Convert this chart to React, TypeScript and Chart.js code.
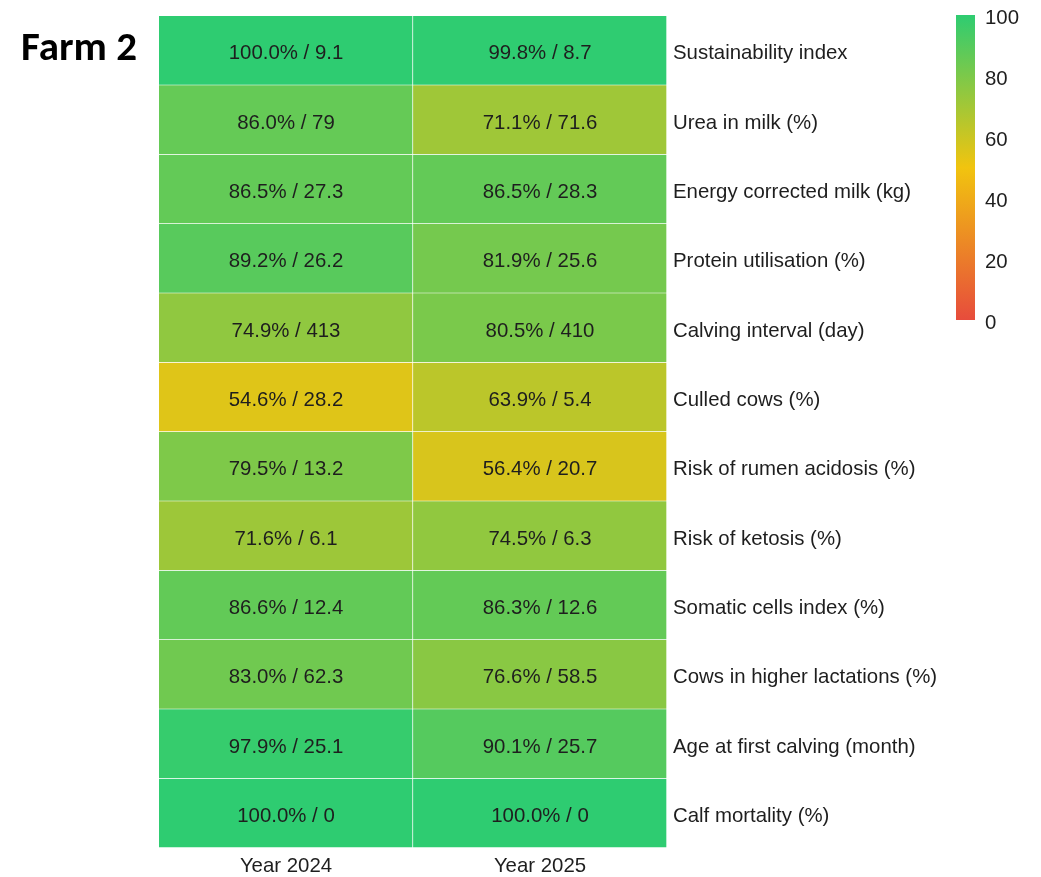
import React, { useEffect, useRef } from "react";
import { Chart, registerables } from "chart.js";

Chart.register(...registerables);

const TITLE = "Farm 2";
const YEARS = ["Year 2024", "Year 2025"];
const ROWS = [
  "Sustainability index",
  "Urea in milk (%)",
  "Energy corrected milk (kg)",
  "Protein utilisation (%)",
  "Calving interval (day)",
  "Culled cows (%)",
  "Risk of rumen acidosis (%)",
  "Risk of ketosis (%)",
  "Somatic cells index (%)",
  "Cows in higher lactations (%)",
  "Age at first calving (month)",
  "Calf mortality (%)",
];
const PCT_2024 = [100.0, 86.0, 86.5, 89.2, 74.9, 54.6, 79.5, 71.6, 86.6, 83.0, 97.9, 100.0];
const VAL_2024 = ["9.1", "79", "27.3", "26.2", "413", "28.2", "13.2", "6.1", "12.4", "62.3", "25.1", "0"];
const PCT_2025 = [99.8, 71.1, 86.5, 81.9, 80.5, 63.9, 56.4, 74.5, 86.3, 76.6, 90.1, 100.0];
const VAL_2025 = ["8.7", "71.6", "28.3", "25.6", "410", "5.4", "20.7", "6.3", "12.6", "58.5", "25.7", "0"];
const SCALE_TICKS = [0, 20, 40, 60, 80, 100];

const STOPS: [number, number[]][] = [
  [0, [231, 76, 60]],
  [50, [241, 196, 15]],
  [100, [46, 204, 113]],
];

function colorFor(v: number): string {
  for (let i = 0; i < STOPS.length - 1; i++) {
    const [a, ca] = STOPS[i];
    const [b, cb] = STOPS[i + 1];
    if (v <= b) {
      const t = (v - a) / (b - a);
      const c = ca.map((x, k) => Math.round(x + (cb[k] - x) * t));
      return `rgb(${c[0]},${c[1]},${c[2]})`;
    }
  }
  const c = STOPS[STOPS.length - 1][1];
  return `rgb(${c[0]},${c[1]},${c[2]})`;
}

const FONT = "'Liberation Sans', Arial, sans-serif";
const FS = 20.4;

export default function App() {
  const ref = useRef<HTMLCanvasElement | null>(null);

  useEffect(() => {
    document.body.style.margin = "0";
    const canvas = ref.current!;
    const pcts = [PCT_2024, PCT_2025];
    const vals = [VAL_2024, VAL_2025];

    const cellText = {
      id: "cellText",
      afterDatasetsDraw(chart: any) {
        const ctx = chart.ctx;
        ctx.save();
        ctx.font = `${FS}px ${FONT}`;
        ctx.fillStyle = "#1e1e1e";
        ctx.textAlign = "center";
        ctx.textBaseline = "middle";
        chart.data.datasets.forEach((ds: any, di: number) => {
          const meta = chart.getDatasetMeta(di);
          meta.data.forEach((el: any, i: number) => {
            const p = el.getProps(["x", "y", "base"], true);
            const cx = (p.x + p.base) / 2;
            ctx.fillText(`${pcts[di][i].toFixed(1)}% / ${vals[di][i]}`, cx, p.y + 3);
          });
        });
        ctx.restore();
      },
    };

    const colorBar = {
      id: "colorBar",
      afterDraw(chart: any) {
        const ctx = chart.ctx;
        const x0 = 956, w = 19, top = 15, bottom = 320;
        ctx.save();
        const g = ctx.createLinearGradient(0, bottom, 0, top);
        STOPS.forEach(([v, c]) => g.addColorStop(v / 100, `rgb(${c[0]},${c[1]},${c[2]})`));
        ctx.fillStyle = g;
        ctx.fillRect(x0, top, w, bottom - top);
        ctx.font = `${FS}px ${FONT}`;
        ctx.fillStyle = "#1e1e1e";
        ctx.textAlign = "left";
        ctx.textBaseline = "middle";
        SCALE_TICKS.forEach((t) => {
          const y = bottom - ((bottom - top) * t) / 100;
          ctx.fillText(String(t), 985, y + 3);
        });
        ctx.restore();
      },
    };

    const chart = new Chart(canvas, {
      type: "bar",
      data: {
        labels: ROWS,
        datasets: YEARS.map((y, di) => ({
          label: y,
          data: ROWS.map(() => [di, di + 1] as [number, number]),
          backgroundColor: pcts[di].map(colorFor),
          borderColor: "#ffffff",
          borderWidth: { top: 0, left: 0, right: 1, bottom: 1 } as any,
          borderSkipped: false,
          barPercentage: 1,
          categoryPercentage: 1,
          grouped: false,
        })),
      },
      options: {
        indexAxis: "y",
        animation: false,
        responsive: false,
        maintainAspectRatio: false,
        layout: { padding: { left: 159, top: 16, right: 0, bottom: 0 } },
        plugins: { legend: { display: false }, tooltip: { enabled: false } },
        scales: {
          x: {
            type: "linear",
            min: 0,
            max: 2,
            grid: { display: false, drawTicks: false },
            border: { display: false },
            afterBuildTicks: (s: any) => {
              s.ticks = [{ value: 0.5 }, { value: 1.5 }];
            },
            afterFit: (s: any) => {
              s.height = 29;
              s.paddingLeft = 0;
              s.paddingRight = 0;
            },
            ticks: {
              autoSkip: false,
              maxRotation: 0,
              padding: 6,
              color: "#1e1e1e",
              font: { family: FONT, size: FS },
              callback: (v: any) => (v === 0.5 ? YEARS[0] : v === 1.5 ? YEARS[1] : ""),
            },
          },
          y: {
            type: "category",
            position: "right",
            grid: { display: false, drawTicks: false },
            border: { display: false },
            afterFit: (s: any) => {
              s.width = 1041 - 667;
              s.paddingTop = 0;
              s.paddingBottom = 0;
            },
            ticks: {
              padding: 6,
              labelOffset: 3,
              color: "#1e1e1e",
              font: { family: FONT, size: FS },
            },
          },
        },
      },
      plugins: [cellText, colorBar],
    });
    return () => chart.destroy();
  }, []);

  return (
    <div style={{ position: "relative", width: 1041, height: 877, background: "#fff" }}>
      <canvas ref={ref} width={1041} height={877} style={{ display: "block" }} />
      <div
        style={{
          position: "absolute",
          left: 21,
          top: 21,
          fontFamily: "Carlito, 'Open Sans', Lato, sans-serif",
          fontWeight: 700,
          fontSize: 41,
          lineHeight: "50px",
          color: "#000",
        }}
      >
        {TITLE}
      </div>
    </div>
  );
}
